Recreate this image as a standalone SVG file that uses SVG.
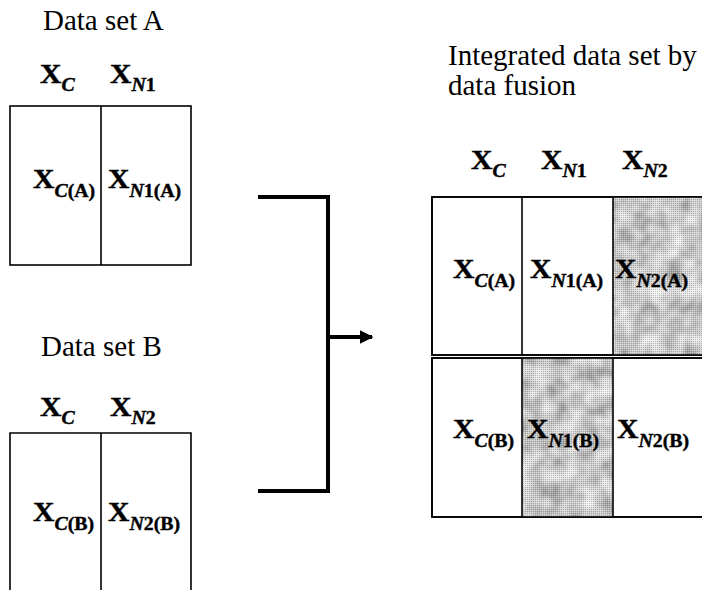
<svg xmlns="http://www.w3.org/2000/svg" width="702" height="590" viewBox="0 0 702 590">
<style>
.t{font-family:"Liberation Serif","Times New Roman",serif;font-size:29px;fill:#000}
.x{font-family:"Liberation Serif","Times New Roman",serif;font-size:27px;font-weight:bold;fill:#000;stroke:#000;stroke-width:0.4}
.s{font-size:18px}
.i{font-style:italic}
.box{fill:#fff;stroke:#000;stroke-width:1.6}
.div{stroke:#000;stroke-width:1.6;fill:none}
.con{stroke:#000;stroke-width:4;fill:none}
</style>
<defs>
<filter id="mottle" x="0" y="0" width="100%" height="100%">
<feTurbulence type="fractalNoise" baseFrequency="0.06" numOctaves="2" seed="5"/>
<feColorMatrix type="matrix" values="0.9 0 0 0 0.16 0.9 0 0 0 0.16 0.9 0 0 0 0.16 0 0 0 0 1"/>
</filter>
<pattern id="dots" width="2" height="2" patternUnits="userSpaceOnUse">
<rect x="0" y="0" width="1" height="1" fill="#fff" fill-opacity="0.3"/>
<rect x="1" y="1" width="1" height="1" fill="#000" fill-opacity="0.2"/>
</pattern>
<marker id="ah" viewBox="0 0 10 10" refX="9" refY="5" markerWidth="3.4" markerHeight="3.4" orient="auto" markerUnits="strokeWidth">
<path d="M0,0 L10,5 L0,10 Z" fill="#000"/>
</marker>
</defs>
<rect width="702" height="590" fill="#fff"/>

<g id="datasetA">
<text class="t" x="43" y="30">Data set A</text>
<text class="x" transform="translate(40,83) scale(1.1,1)">X<tspan class="s i" dy="8">C</tspan></text>
<text class="x" transform="translate(110,83) scale(1.1,1)">X<tspan class="s i" dy="8">N</tspan><tspan class="s">1</tspan></text>
<rect class="box" x="10" y="106" width="181" height="159"/>
<line class="div" x1="101" y1="106" x2="101" y2="265"/>
<text class="x" transform="translate(33,188) scale(1.1,1)">X<tspan class="s i" dy="9">C</tspan><tspan class="s">(A)</tspan></text>
<text class="x" transform="translate(108,188) scale(1.1,1)">X<tspan class="s i" dy="9">N</tspan><tspan class="s">1(A)</tspan></text>
</g>

<g id="datasetB">
<text class="t" x="41" y="356">Data set B</text>
<text class="x" transform="translate(40,416) scale(1.1,1)">X<tspan class="s i" dy="8">C</tspan></text>
<text class="x" transform="translate(110,416) scale(1.1,1)">X<tspan class="s i" dy="8">N</tspan><tspan class="s">2</tspan></text>
<path class="div" d="M10,600 L10,433 L191,433 L191,600"/>
<line class="div" x1="101" y1="433" x2="101" y2="600"/>
<text class="x" transform="translate(33,521) scale(1.1,1)">X<tspan class="s i" dy="9">C</tspan><tspan class="s">(B)</tspan></text>
<text class="x" transform="translate(108,521) scale(1.1,1)">X<tspan class="s i" dy="9">N</tspan><tspan class="s">2(B)</tspan></text>
</g>

<g id="connectors">
<path class="con" d="M258,197 L328,197 L328,491 L258,491"/>
<line class="con" x1="328" y1="337" x2="372" y2="337" marker-end="url(#ah)"/>
</g>

<g id="integrated">
<text class="t" x="448" y="65">Integrated data set by</text>
<text class="t" x="448" y="95">data fusion</text>
<text class="x" transform="translate(471,169) scale(1.1,1)">X<tspan class="s i" dy="8">C</tspan></text>
<text class="x" transform="translate(541,169) scale(1.1,1)">X<tspan class="s i" dy="8">N</tspan><tspan class="s">1</tspan></text>
<text class="x" transform="translate(622,169) scale(1.1,1)">X<tspan class="s i" dy="8">N</tspan><tspan class="s">2</tspan></text>
<g id="rowA">
<rect class="box" x="432" y="197" width="280" height="158"/>
<rect x="613" y="197" width="89" height="158" filter="url(#mottle)"/>
<rect x="613" y="197" width="89" height="158" fill="url(#dots)"/>
<line class="div" x1="522" y1="197" x2="522" y2="355"/>
<line class="div" x1="613" y1="197" x2="613" y2="355"/>
<rect class="box" x="432" y="197" width="280" height="158" style="fill:none"/>
<text class="x" transform="translate(453,278) scale(1.1,1)">X<tspan class="s i" dy="9">C</tspan><tspan class="s">(A)</tspan></text>
<text class="x" transform="translate(530,278) scale(1.1,1)">X<tspan class="s i" dy="9">N</tspan><tspan class="s">1(A)</tspan></text>
<text class="x" transform="translate(615,278) scale(1.1,1)">X<tspan class="s i" dy="9">N</tspan><tspan class="s">2(A)</tspan></text>
</g>
<g id="rowB">
<rect class="box" x="432" y="358" width="280" height="159"/>
<rect x="522" y="358" width="91" height="159" filter="url(#mottle)"/>
<rect x="522" y="358" width="91" height="159" fill="url(#dots)"/>
<line class="div" x1="522" y1="358" x2="522" y2="517"/>
<line class="div" x1="613" y1="358" x2="613" y2="517"/>
<rect class="box" x="432" y="358" width="280" height="159" style="fill:none"/>
<text class="x" transform="translate(453,438) scale(1.1,1)">X<tspan class="s i" dy="9">C</tspan><tspan class="s">(B)</tspan></text>
<text class="x" transform="translate(527,438) scale(1.1,1)">X<tspan class="s i" dy="9">N</tspan><tspan class="s">1(B)</tspan></text>
<text class="x" transform="translate(617,438) scale(1.1,1)">X<tspan class="s i" dy="9">N</tspan><tspan class="s">2(B)</tspan></text>
</g>
</g>
</svg>
